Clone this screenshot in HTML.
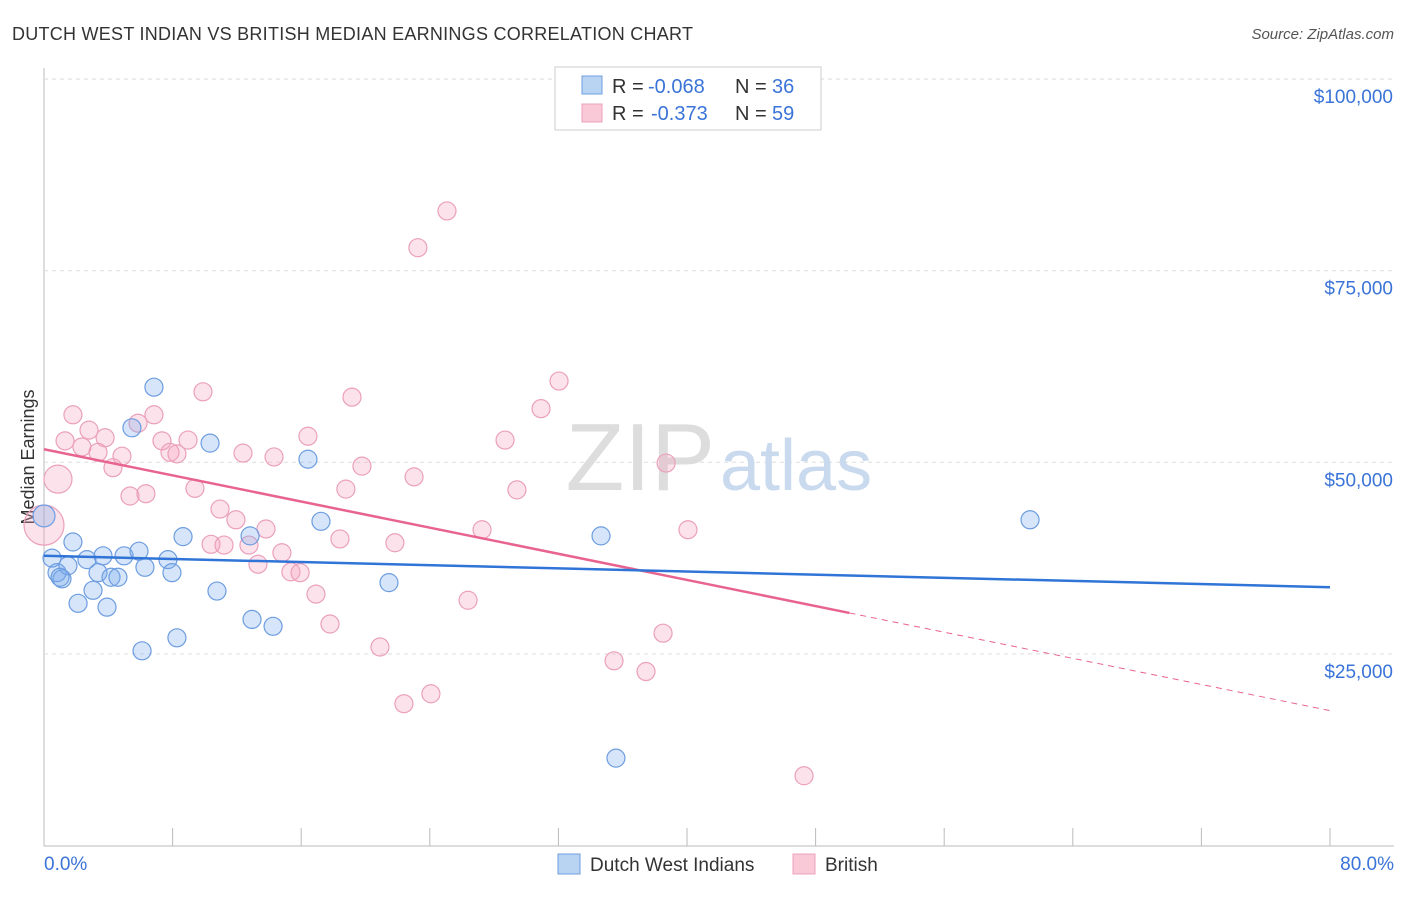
<!DOCTYPE html>
<html><head><meta charset="utf-8"><style>
body{margin:0;background:#fff;font-family:"Liberation Sans",sans-serif;}
svg text{font-family:"Liberation Sans",sans-serif;}
</style></head><body>
<svg id="chart" width="1406" height="892">
<text x="12" y="40" font-size="18" fill="#333" textLength="681">DUTCH WEST INDIAN VS BRITISH MEDIAN EARNINGS CORRELATION CHART</text>
<text x="1394" y="39" font-size="15" fill="#555" text-anchor="end" font-style="italic">Source: ZipAtlas.com</text>
<text transform="translate(34,457) rotate(-90)" font-size="18" fill="#333" text-anchor="middle">Median Earnings</text>
<g id="grid"></g>
<text x="715" y="490" font-size="96" fill="#ddd" text-anchor="end" font-family="Liberation Serif">ZIP</text>
<text x="720" y="490" font-size="72" fill="#c9d9ee">atlas</text>
<g id="marks"></g>
<g>
<rect x="555" y="67" width="266" height="63" fill="#fff" stroke="#ccc"/>
<rect x="582" y="76" width="20" height="18" fill="#b9d3f3" stroke="#6d9de0"/>
<rect x="582" y="104" width="20" height="18" fill="#f9c9d8" stroke="#eba0bb"/>
<text x="612" y="93" font-size="20" fill="#333">R =</text>
<text x="648" y="93" font-size="20" fill="#3a74d8">-0.068</text>
<text x="735" y="93" font-size="20" fill="#333">N =</text>
<text x="772" y="93" font-size="20" fill="#3a74d8">36</text>
<text x="612" y="120" font-size="20" fill="#333">R =</text>
<text x="651" y="120" font-size="20" fill="#3a74d8">-0.373</text>
<text x="735" y="120" font-size="20" fill="#333">N =</text>
<text x="772" y="120" font-size="20" fill="#3a74d8">59</text>
</g>
<g>
<rect x="558" y="854" width="22" height="20" fill="#b9d3f3" stroke="#6d9de0"/>
<text x="590" y="871" font-size="19" fill="#333">Dutch West Indians</text>
<rect x="793" y="854" width="22" height="20" fill="#f9c9d8" stroke="#eba0bb"/>
<text x="825" y="871" font-size="19" fill="#333">British</text>
</g>
</svg>
<script>
const xTicks=[0,8,16,24,32,40,48,56,64,72,80];
const yTicks=[25000,50000,75000,100000];
const yTickLabels=["$25,000","$50,000","$75,000","$100,000"];
const blueX=[0,0.5,0.81,1.12,1.49,1.8,2.12,2.67,3.05,3.36,3.67,3.92,4.17,4.6,4.98,5.47,5.91,6.1,6.28,6.84,7.71,7.96,8.27,8.65,10.33,10.76,12.82,12.94,14.25,16.42,17.23,21.46,34.65,35.58,61.34,1.0];
const blueY=[43.0,37.5,35.6,34.8,36.5,39.6,31.6,37.3,33.3,35.6,37.8,31.1,35.0,35.0,37.8,54.5,38.4,25.4,36.3,59.8,37.3,35.6,27.1,40.3,52.5,33.2,40.4,29.5,28.6,50.4,42.3,34.3,40.4,11.4,42.5,35.0];
const pinkX=[0,0.87,1.31,1.8,2.36,2.8,3.36,3.8,4.29,4.85,5.35,5.85,6.34,6.84,7.34,7.84,8.27,8.96,9.39,9.89,10.39,10.95,11.2,11.94,12.38,12.75,13.31,13.81,14.31,14.8,15.36,15.93,16.42,16.92,17.79,18.41,18.78,19.16,19.78,20.9,21.83,22.39,23.02,23.26,24.07,25.07,26.38,27.25,28.68,29.42,30.92,32.04,35.46,37.45,38.51,38.7,40.06,47.28];
const pinkY=[41.8,47.8,52.8,56.2,52.0,54.2,51.3,53.2,49.3,50.8,45.6,55.1,45.9,56.2,52.8,51.3,51.1,52.9,46.6,59.2,39.3,43.9,39.2,42.5,51.2,39.2,36.7,41.3,50.7,38.2,35.7,35.6,53.4,32.8,28.9,40.0,46.5,58.5,49.5,25.9,39.5,18.5,48.1,78.0,19.8,82.8,32.0,41.2,52.9,46.4,57.0,60.6,24.1,22.7,27.7,49.9,41.2,9.1];
const blueTrend=[37.8,33.7];
const pinkTrend=[51.7,17.6];
const pinkSolidEnd=50.1;
const NS="http://www.w3.org/2000/svg";
const X=p=>44+p/80*1286;
const Y=k=>845.5-k*1000/25000*191.6;
function mk(t,a,p){const e=document.createElementNS(NS,t);for(const k in a)e.setAttribute(k,a[k]);p.appendChild(e);return e;}
const g=document.getElementById('grid'),m=document.getElementById('marks');
let l=mk('line',{x1:44,y1:68,x2:44,y2:846,stroke:'#bbb'},g);


l=mk('line',{x1:44,y1:846,x2:1394,y2:846,stroke:'#bbb'},g);


mk('line',{x1:44,y1:79,x2:1394,y2:79,stroke:'#ddd','stroke-dasharray':'4,4'},g);
yTicks.forEach((v,i)=>{const y=Y(v/1000);
 const gl=mk('line',{x1:44,y1:y,x2:1394,y2:y,stroke:'#ddd','stroke-dasharray':'4,4'},g);
 
 
 const t=mk('text',{x:1393,y:y+24,'font-size':19,fill:'#3a74d8','text-anchor':'end'},g);t.textContent=yTickLabels[i];
 
 });
xTicks.forEach(v=>{const x=X(v);
 const t=mk('line',{x1:x,y1:828,x2:x,y2:846,stroke:'#bbb'},g);
 
 });
let t=mk('text',{x:44,y:870,'font-size':19,fill:'#3a74d8'},g);t.textContent='0.0%';


t=mk('text',{x:1394,y:870,'font-size':19,fill:'#3a74d8','text-anchor':'end'},g);t.textContent='80.0%';


pinkX.forEach((x,i)=>{const r=i==0?20:(i==1?14:9);
 const c=mk('circle',{cx:X(x),cy:Y(pinkY[i]),r:r,fill:'rgba(244,160,190,0.3)',stroke:'#eba0bb','stroke-width':1.2},m);
 
 });
blueX.forEach((x,i)=>{const r=i==0?11:9;
 const c=mk('circle',{cx:X(x),cy:Y(blueY[i]),r:r,fill:'rgba(120,170,235,0.3)',stroke:'#6d9de0','stroke-width':1.2},m);
 
 });
const py=p=>pinkTrend[0]+(pinkTrend[1]-pinkTrend[0])*p/80;
l=mk('line',{x1:X(0),y1:Y(py(0)),x2:X(pinkSolidEnd),y2:Y(py(pinkSolidEnd)),stroke:'#e8648f','stroke-width':2.5},m);


l=mk('line',{x1:X(pinkSolidEnd),y1:Y(py(pinkSolidEnd)),x2:X(80),y2:Y(py(80)),stroke:'#e8648f','stroke-width':1,'stroke-dasharray':'6,5'},m);


l=mk('line',{x1:X(0),y1:Y(blueTrend[0]),x2:X(80),y2:Y(blueTrend[1]),stroke:'#2f74d6','stroke-width':2.5},m);


</script>
</body></html>
